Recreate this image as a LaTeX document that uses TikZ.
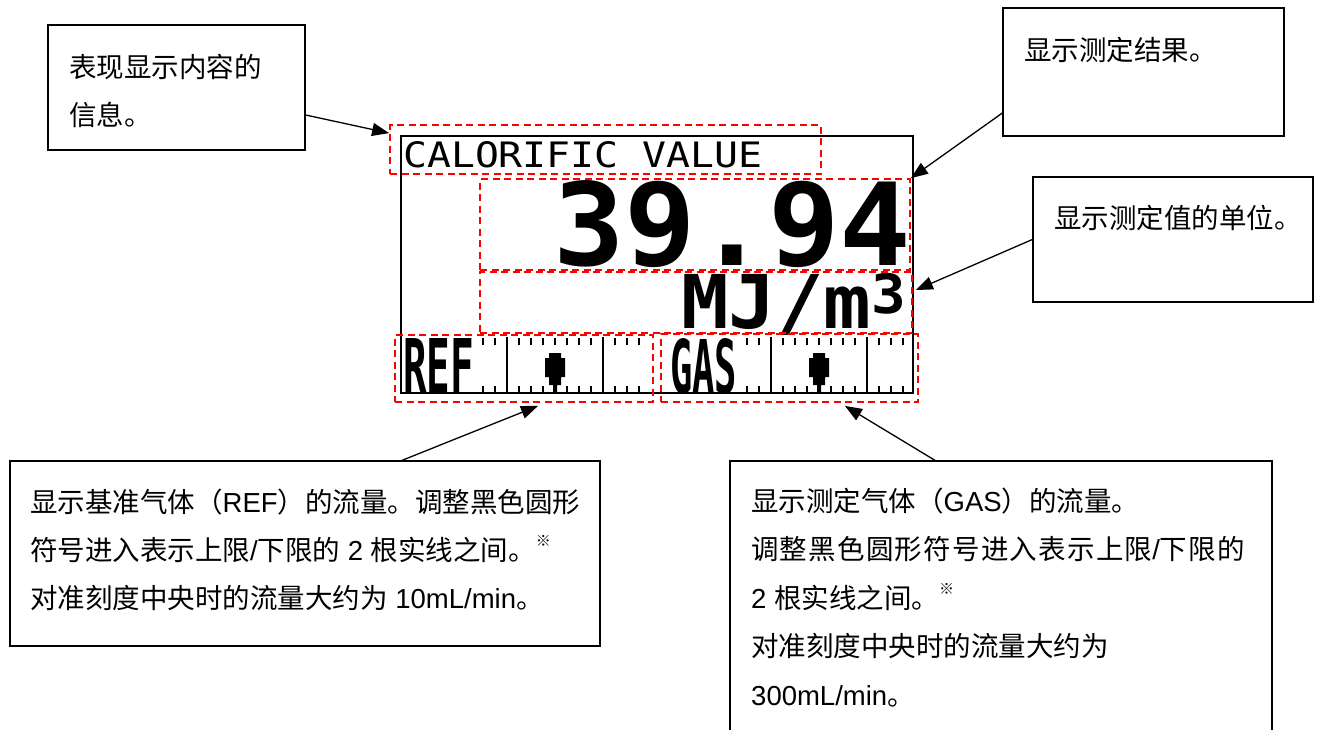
\documentclass[tikz,border=0pt]{standalone}
\usepackage{fontspec}
\usepackage{graphicx}
\setmainfont{Liberation Sans}
\newfontfamily\zh{Noto Sans CJK SC}
\newfontfamily\lcd{DejaVu Sans Mono}
\usetikzlibrary{arrows.meta}
\newcommand\kome{\raisebox{14pt}{\fontsize{15}{15}\selectfont\zh ※}}
\newcommand\nodepth[1]{\raisebox{0pt}[\height][0pt]{#1}}
\tikzset{
  callout/.style={draw, line width=1.3pt, rectangle, inner sep=0pt, fill=white},
  rbox/.style={draw=red, line width=1.8pt, dash pattern=on 7pt off 4.5pt, rectangle, inner sep=0pt},
  txt/.style={anchor=base west, inner sep=0pt, font=\fontsize{27.5}{27.5}\selectfont},
  lcdtxt/.style={anchor=base west, inner sep=0pt},
  arr/.style={line width=1.3pt, -{Triangle[length=17pt,width=13pt]}},
  lcddot/.pic={\fill (-6,0) -- (6,0) -- (6,5) -- (10,5) -- (10,24) -- (6,24) -- (6,32) -- (2,32) -- (2,40) -- (-2,40) -- (-2,32) -- (-6,32) -- (-6,24) -- (-10,24) -- (-10,5) -- (-6,5) -- cycle;}
}
\begin{document}
\begin{tikzpicture}[x=1pt,y=-1pt]
\fill[white] (0,0) rectangle (1322,729);
\useasboundingbox (0,0) rectangle (1322,729);

% LCD frame
\node[draw, line width=1.5pt, minimum width=512pt, minimum height=257pt, inner sep=0pt] (lcd) at (657,264.5) {};

% LCD texts
\node[lcdtxt] (cal) at (403,167) {\nodepth{\resizebox{359pt}{26pt}{\lcd CALORIFIC VALUE}}};
\node[lcdtxt] (val) at (553,265) {\nodepth{\resizebox{358pt}{85pt}{\lcd\bfseries 39.94}}};
\node[lcdtxt] (unit) at (681,328) {\nodepth{\resizebox{225pt}{55pt}{\lcd\bfseries MJ/m\raisebox{0.2em}{\scalebox{0.73}{3}}}}};
\node[lcdtxt] (reft) at (403,393) {\nodepth{\resizebox{71pt}{55pt}{\lcd\bfseries REF}}};
\node[lcdtxt] (gast) at (670,393) {\nodepth{\resizebox{67pt}{55pt}{\lcd\bfseries GAS}}};

% scales
\foreach \s in {483,747}{
  \foreach \k in {0,...,13}{
    \fill ({\s+12*\k-1.3},338) rectangle ++(2.7,7);
    \fill ({\s+12*\k-1.3},386) rectangle ++(2.7,7);
  }
  \fill ({\s+24-1.3},337) rectangle ++(2.6,56);
  \fill ({\s+120-1.3},337) rectangle ++(2.6,56);
  \pic at ({\s+72},353) {lcddot};
}

% red dashed frames
\node[rbox, minimum width=431pt, minimum height=49pt] (r1) at (605.5,149.5) {};
\node[rbox, minimum width=430pt, minimum height=91pt] (r2) at (695,224.5) {};
\node[rbox, minimum width=432pt, minimum height=61pt] (r3) at (696,302.5) {};
\node[rbox, minimum width=258pt, minimum height=67pt] (r4) at (524,368.5) {};
\node[rbox, minimum width=257pt, minimum height=68pt] (r5) at (789.5,368) {};

% callout boxes
\node[callout, minimum width=257pt, minimum height=125pt] (b1) at (176.5,87.5) {};
\node[callout, minimum width=281pt, minimum height=128pt] (bres) at (1143.5,72) {};
\node[callout, minimum width=280pt, minimum height=125pt] (bunit) at (1173,239.5) {};
\node[callout, minimum width=590pt, minimum height=185pt] (bref) at (305,553.5) {};
\begin{scope}
\clip (0,0) rectangle (1322,729);
\node[callout, minimum width=542pt, minimum height=319pt] (bgas) at (1001,620.5) {};
\end{scope}

% callout texts
\node[txt] (t1a) at (69,77.5) {\zh 表现显示内容的};
\node[txt] (t1b) at (69,125) {\zh 信息。};
\node[txt] (t2) at (1024,60) {\zh 显示测定结果。};
\node[txt] (t3) at (1054,228) {\zh 显示测定值的单位。};

\node[txt] (tr1) at (30,512) {{\zh 显示基准气体（}REF{\zh ）的流量。调整黑色圆形}};
\node[txt] (tr2) at (30,560.5) {{\zh 符号进入表示上限}/{\zh 下限的} 2 {\zh 根实线之间。}\kome};
\node[txt] (tr3) at (30,608.5) {{\zh 对准刻度中央时的流量大约为} 10mL/min{\zh 。}};

\node[txt] (tg1) at (751,511) {{\zh 显示测定气体（}GAS{\zh ）的流量。}};
\node[txt] (tg2) at (751,559.5) {{\zh\addfontfeature{LetterSpace=4.5}调整黑色圆形符号进入表示上限}/{\zh\addfontfeature{LetterSpace=4.5}下限的}};
\node[txt] (tg3) at (751,608) {2 {\zh 根实线之间。}\kome};
\node[txt] (tg4) at (751,656.5) {\zh 对准刻度中央时的流量大约为};
\node[txt] (tg5) at (751,705) {300mL/min{\zh 。}};

% arrows
\draw[arr] ([yshift=-27.5pt]b1.east) -- ([yshift=-9pt]r1.north west);
\draw[arr] ([yshift=-41pt]bres.west) -- (r2.north east);
\draw[arr] (bunit.west) -- ([xshift=3pt,yshift=12.5pt]r3.east);
\draw[arr] ([xshift=97pt]bref.north) -- ([xshift=14pt,yshift=-3pt]r4.south);
\draw[arr] ([xshift=-66pt]bgas.north) -- ([xshift=55.5pt,yshift=-3pt]r5.south);
\end{tikzpicture}
\end{document}
